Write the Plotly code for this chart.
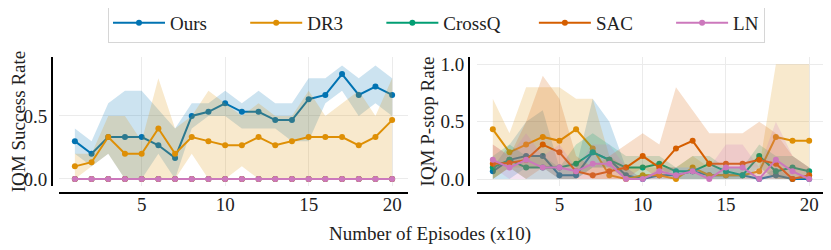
import plotly.graph_objects as go

# ---------------- data ----------------
episodes = list(range(1, 21))
methods = ["Ours", "DR3", "CrossQ", "SAC", "LN"]
colors = ["#0173b2", "#de8f05", "#029e73", "#d55e00", "#cc78bc"]

# IQM success rate (left panel)
ours_s = [0.300, 0.200, 0.333, 0.333, 0.333, 0.267, 0.167, 0.500, 0.533, 0.600,
          0.533, 0.533, 0.467, 0.467, 0.633, 0.667, 0.833, 0.667, 0.733, 0.667]
ours_s_lo = [0.2, 0.1, 0.2, 0.0, 0.0, 0.2, 0.0, 0.4, 0.5, 0.5,
             0.4, 0.4, 0.4, 0.3, 0.3, 0.6, 0.7, 0.5, 0.6, 0.5]
ours_s_hi = [0.4, 0.3, 0.6, 0.7, 0.7, 0.55, 0.4, 0.6, 0.6, 0.7,
             0.6, 0.7, 0.6, 0.6, 0.8, 0.8, 0.9, 0.8, 0.9, 0.8]
dr3_s = [0.100, 0.133, 0.333, 0.200, 0.200, 0.400, 0.200, 0.333, 0.300, 0.267,
         0.267, 0.333, 0.267, 0.300, 0.333, 0.333, 0.333, 0.267, 0.333, 0.467]
dr3_s_lo = [0.0, 0.1, 0.2, 0.0, 0.0, 0.0, 0.0, 0.2, 0.0, 0.0,
            0.1, 0.0, 0.0, 0.0, 0.0, 0.0, 0.0, 0.0, 0.0, 0.0]
dr3_s_hi = [0.2, 0.2, 0.5, 0.5, 0.3, 0.8, 0.4, 0.5, 0.7, 0.6,
            0.5, 0.6, 0.5, 0.5, 0.7, 0.5, 0.6, 0.7, 0.5, 0.8]
crossq_s = [0.0] * 20
sac_s = [0.0] * 20
ln_s = [0.0] * 20
zero_band = [0.0] * 20

# IQM P-stop rate (right panel)
ours_p = [0.067, 0.167, 0.200, 0.200, 0.033, 0.033, 0.233, 0.167, 0.033, 0.000,
          0.033, 0.033, 0.067, 0.033, 0.033, 0.033, 0.000, 0.033, 0.000, 0.000]
ours_p_lo = [0.0, 0.0, 0.1, 0.1, 0.0, 0.0, 0.1, 0.1, 0.0, 0.0,
             0.0, 0.0, 0.0, 0.0, 0.0, 0.0, 0.0, 0.0, 0.0, 0.0]
ours_p_hi = [0.1, 0.3, 0.5, 0.6, 0.1, 0.1, 0.7, 0.5, 0.1, 0.0,
             0.1, 0.1, 0.1, 0.1, 0.1, 0.1, 0.0, 0.1, 0.0, 0.0]
dr3_p = [0.433, 0.233, 0.300, 0.367, 0.333, 0.433, 0.267, 0.033, 0.000, 0.033,
         0.033, 0.000, 0.100, 0.033, 0.033, 0.033, 0.067, 0.367, 0.333, 0.333]
dr3_p_lo = [0.0, 0.1, 0.1, 0.1, 0.1, 0.1, 0.0, 0.0, 0.0, 0.0,
            0.0, 0.0, 0.0, 0.0, 0.0, 0.0, 0.0, 0.0, 0.0, 0.0]
dr3_p_hi = [0.7, 0.4, 0.8, 0.8, 0.8, 0.7, 0.7, 0.2, 0.1, 0.1,
            0.1, 0.1, 0.2, 0.1, 0.1, 0.1, 0.1, 1.0, 1.0, 1.0]
crossq_p = [0.100, 0.167, 0.100, 0.100, 0.100, 0.133, 0.233, 0.167, 0.100, 0.100,
            0.133, 0.067, 0.067, 0.133, 0.067, 0.033, 0.200, 0.067, 0.100, 0.067]
crossq_p_lo = [0.0, 0.1, 0.0, 0.0, 0.0, 0.0, 0.1, 0.1, 0.0, 0.0,
               0.1, 0.0, 0.0, 0.0, 0.0, 0.0, 0.1, 0.0, 0.0, 0.0]
crossq_p_hi = [0.2, 0.3, 0.2, 0.2, 0.1, 0.3, 0.4, 0.3, 0.2, 0.2,
               0.2, 0.1, 0.2, 0.2, 0.1, 0.1, 0.3, 0.2, 0.2, 0.1]
sac_p = [0.133, 0.140, 0.167, 0.300, 0.233, 0.067, 0.033, 0.067, 0.100, 0.200,
         0.100, 0.267, 0.333, 0.133, 0.133, 0.133, 0.167, 0.133, 0.000, 0.033]
sac_p_lo = [0.0, 0.1, 0.0, 0.1, 0.0, 0.0, 0.0, 0.0, 0.0, 0.1,
            0.0, 0.1, 0.1, 0.1, 0.1, 0.1, 0.1, 0.0, 0.0, 0.0]
sac_p_hi = [0.3, 0.2, 0.5, 0.9, 0.7, 0.2, 0.1, 0.2, 0.3, 0.4,
            0.3, 0.8, 0.6, 0.4, 0.4, 0.4, 0.5, 0.4, 0.2, 0.1]
ln_p = [0.167, 0.100, 0.167, 0.100, 0.100, 0.067, 0.133, 0.133, 0.000, 0.000,
        0.067, 0.033, 0.067, 0.000, 0.100, 0.100, 0.000, 0.167, 0.067, 0.000]
ln_p_lo = [0.1, 0.0, 0.0, 0.0, 0.0, 0.0, 0.0, 0.0, 0.0, 0.0,
           0.0, 0.0, 0.0, 0.0, 0.0, 0.0, 0.0, 0.0, 0.0, 0.0]
ln_p_hi = [0.3, 0.2, 0.4, 0.2, 0.3, 0.1, 0.3, 0.3, 0.1, 0.0,
           0.1, 0.1, 0.1, 0.1, 0.3, 0.3, 0.1, 0.5, 0.2, 0.1]

success = [(ours_s, ours_s_lo, ours_s_hi), (dr3_s, dr3_s_lo, dr3_s_hi),
           (crossq_s, zero_band, zero_band), (sac_s, zero_band, zero_band),
           (ln_s, zero_band, zero_band)]
pstop = [(ours_p, ours_p_lo, ours_p_hi), (dr3_p, dr3_p_lo, dr3_p_hi),
         (crossq_p, crossq_p_lo, crossq_p_hi), (sac_p, sac_p_lo, sac_p_hi),
         (ln_p, ln_p_lo, ln_p_hi)]

FONT = "Liberation Serif, Times New Roman, DejaVu Serif, serif"
FS = 19
TXT = "#222"
# the page body has an 8 px margin: the figure is sized so it fills the window
OFF = 8
W, H = 831 - OFF, 250 - OFF


def px_x(p):
    return (p - OFF) / W


def px_y(p):
    return 1 - (p - OFF) / H


def rgba(hexc, a):
    h = hexc.lstrip("#")
    return "rgba(%d,%d,%d,%s)" % (int(h[0:2], 16), int(h[2:4], 16), int(h[4:6], 16), a)


NB = "\u00a0"
legend_pad = [7, 7, 6, 7, 0]

fig = go.Figure()


def add_panel(data, xa, ya, legend):
    for name, col, pad, (y, lo, hi) in zip(methods, colors, legend_pad, data):
        fig.add_trace(go.Scatter(
            x=episodes + episodes[::-1], y=hi + lo[::-1], fill="toself",
            fillcolor=rgba(col, 0.2), line=dict(width=0), mode="lines",
            hoverinfo="skip", showlegend=False, xaxis=xa, yaxis=ya))
        fig.add_trace(go.Scatter(
            x=episodes, y=y, mode="lines+markers", name=name + NB * pad,
            legendgroup=name, showlegend=legend, line=dict(color=col, width=2),
            marker=dict(color=col, size=6), xaxis=xa, yaxis=ya))


add_panel(success, "x", "y", True)
add_panel(pstop, "x2", "y2", False)

ydom = [px_y(186), px_y(57)]
xpos = px_y(192.7)
tfont = dict(family=FONT, size=FS, color=TXT)
common_x = dict(range=[0.05, 20.95], anchor="free", position=xpos, automargin=False,
                tickvals=[5, 10, 15, 20], showline=True, linecolor="black",
                linewidth=2, showgrid=True, gridcolor="#ebebeb", gridwidth=1,
                zeroline=False, ticks="", ticklen=0, ticklabelstandoff=-6,
                tickfont=tfont)
common_y = dict(domain=ydom, anchor="free", automargin=False, showline=True,
                linecolor="black", linewidth=2, showgrid=True, gridcolor="#ebebeb",
                gridwidth=1, zeroline=False, ticks="", ticklen=0, tickformat=".1f",
                tickfont=tfont)

fig.update_layout(
    width=W, height=H,
    margin=dict(l=0, r=0, t=0, b=0, autoexpand=False),
    paper_bgcolor="white", plot_bgcolor="white",
    font=tfont,
    xaxis=dict(domain=[px_x(59), px_x(408)], **common_x),
    xaxis2=dict(domain=[px_x(477), px_x(825)], **common_x),
    yaxis=dict(range=[-0.056, 0.968], position=px_x(52), tickvals=[0, 0.5],
               title=dict(text="IQM Success Rate", standoff=0, font=tfont),
               **common_y),
    yaxis2=dict(range=[-0.061, 1.064], position=px_x(469), tickvals=[0, 0.5, 1.0],
                title=dict(text="IQM P-stop Rate", standoff=0, font=tfont),
                **common_y),
    legend=dict(orientation="h", x=px_x(108), y=px_y(3), xanchor="left", yanchor="top",
                bordercolor="#d6d6d6", borderwidth=1, bgcolor="white",
                font=tfont, itemwidth=52),
    annotations=[dict(text="Number of Episodes (x10)", x=px_x(430), y=px_y(234),
                      xref="paper", yref="paper", showarrow=False,
                      xanchor="center", yanchor="middle", font=tfont)],
    showlegend=True,
)

fig.write_html("out.html")
